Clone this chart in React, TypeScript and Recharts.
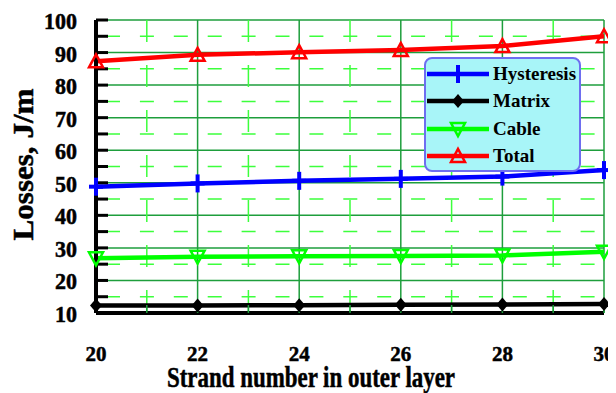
import { LineChart, Line, XAxis, YAxis, CartesianGrid, ReferenceLine, Legend } from 'recharts'

const strands = [20, 22, 24, 26, 28, 30]
const hysteresis = [48.8, 49.8, 50.6, 51.2, 51.9, 53.9]
const matrix = [12.3, 12.3, 12.4, 12.5, 12.6, 12.8]
const cable = [26.8, 27.3, 27.4, 27.5, 27.7, 28.8]
const total = [87.3, 89.3, 90.1, 90.8, 92.0, 95.0]

const yTicks = [10, 15, 20, 25, 30, 35, 40, 45, 50, 55, 60, 65, 70, 75, 80, 85, 90, 95, 100]
const xTicks = [20, 21, 22, 23, 24, 25, 26, 27, 28, 29, 30]
const majorY = [20, 30, 40, 50, 60, 70, 80, 90, 100]
const majorX = [22, 24, 26, 28, 30]
const minorY = [15, 25, 35, 45, 55, 65, 75, 85, 95]
const minorX = [21, 23, 25, 27, 29]

const FONT = '"Liberation Serif", "Times New Roman", serif'
const MAJOR = '#1e9e3c'
const MINOR = '#3cff3c'

const series = [
  { key: 'hysteresis', name: 'Hysteresis', color: '#0000ff', shape: 'plus' },
  { key: 'matrix', name: 'Matrix', color: '#000000', shape: 'diamond' },
  { key: 'cable', name: 'Cable', color: '#00ff00', shape: 'down' },
  { key: 'total', name: 'Total', color: '#ff0000', shape: 'up' },
]

const data = strands.map((s, i) => ({
  strand: s,
  hysteresis: hysteresis[i],
  matrix: matrix[i],
  cable: cable[i],
  total: total[i],
}))

function Marker({ shape, cx, cy, color }: any) {
  if (shape === 'plus') {
    return (
      <g stroke={color} strokeWidth={4}>
        <line x1={cx} y1={cy - 9} x2={cx} y2={cy + 9} />
        <line x1={cx - 7} y1={cy} x2={cx + 7} y2={cy} />
      </g>
    )
  }
  if (shape === 'diamond') {
    return <path d={`M${cx},${cy - 7}L${cx + 6},${cy}L${cx},${cy + 7}L${cx - 6},${cy}Z`} fill={color} />
  }
  if (shape === 'down') {
    return (
      <path d={`M${cx - 7},${cy - 6}L${cx + 7},${cy - 6}L${cx},${cy + 7}Z`} fill="none" stroke={color} strokeWidth={2.5} />
    )
  }
  return (
    <path d={`M${cx - 7},${cy + 6}L${cx + 7},${cy + 6}L${cx},${cy - 7}Z`} fill="none" stroke={color} strokeWidth={2.5} />
  )
}

// heavier bold text, the source looks almost black-filled
const boldText = { fontFamily: FONT, fontWeight: 'bold', fill: '#000', stroke: '#000', strokeWidth: 0.5 } as const

const YTick = ({ x, y, payload }: any) => {
  if (payload.value % 10 !== 0) return <g />
  const label = String(payload.value)
  return (
    <text
      x={x}
      y={y + 9}
      textAnchor="end"
      style={{ fontSize: '23px' }}
      textLength={label.length * 11}
      lengthAdjust="spacingAndGlyphs"
      {...boldText}
    >
      {label}
    </text>
  )
}

const XTick = ({ x, y, payload }: any) => {
  if (payload.value % 2 !== 0) return <g />
  const label = String(payload.value)
  return (
    <text
      x={x}
      y={y}
      textAnchor="middle"
      style={{ fontSize: '22px' }}
      textLength={label.length * 10.5}
      lengthAdjust="spacingAndGlyphs"
      {...boldText}
    >
      {label}
    </text>
  )
}

const XTitle = ({ viewBox }: any) => (
  <text
    x={viewBox.x + viewBox.width / 2 - 39}
    y={viewBox.y + 74}
    textAnchor="middle"
    fontSize={29}
    textLength={288}
    lengthAdjust="spacingAndGlyphs"
    {...boldText}
  >
    Strand number in outer layer
  </text>
)

const YTitle = ({ viewBox }: any) => {
  const cx = 25
  const cy = viewBox.y + viewBox.height / 2 - 2
  return (
    <text
      x={cx}
      y={cy}
      transform={`rotate(-90 ${cx} ${cy})`}
      textAnchor="middle"
      fontSize={30}
      textLength={152}
      lengthAdjust="spacingAndGlyphs"
      {...boldText}
    >
      Losses, J/m
    </text>
  )
}

const renderLegend = () => (
  <div
    style={{
      width: 157,
      height: 115,
      boxSizing: 'border-box',
      background: '#a8f5f8',
      border: '2px solid #6e6ef0',
      borderRadius: 8,
      paddingTop: 1,
    }}
  >
    {series.map((s) => (
      <div key={s.key} style={{ display: 'flex', alignItems: 'center', height: 27.5 }}>
        <svg width={64} height={20}>
          <line x1={1} x2={63} y1={10} y2={10} stroke={s.color} strokeWidth={4.5} />
          <Marker shape={s.shape} cx={32} cy={10} color={s.color} />
        </svg>
        <span style={{ fontFamily: FONT, fontWeight: 'bold', fontSize: 19, marginLeft: 3, color: '#000' }}>
          {s.name}
        </span>
      </div>
    ))}
  </div>
)

export default function App() {
  return (
    <LineChart width={608} height={385} data={data} margin={{ top: 12, right: 12, bottom: 20, left: 8 }}>
      <CartesianGrid stroke={MAJOR} strokeWidth={1.5} horizontalValues={majorY} verticalValues={majorX} />
      {minorY.map((v) => (
        <ReferenceLine key={'my' + v} y={v} stroke={MINOR} strokeWidth={1.5} strokeDasharray="14 19.9" strokeDashoffset={23.9} />
      ))}
      {minorX.map((v) => (
        <ReferenceLine key={'mx' + v} x={v} stroke={MINOR} strokeWidth={1.5} strokeDasharray="22 23" strokeDashoffset={44} />
      ))}
      <XAxis
        dataKey="strand"
        type="number"
        domain={[20, 30]}
        ticks={xTicks}
        interval={0}
        height={60}
        axisLine={{ stroke: '#000', strokeWidth: 4 }}
        tickLine={{ stroke: MAJOR, strokeWidth: 1.5 }}
        tickSize={-8}
        tickMargin={56}
        tick={XTick}
        label={XTitle}
      />
      <YAxis
        type="number"
        domain={[10, 100]}
        ticks={yTicks}
        interval={0}
        width={80}
        axisLine={{ stroke: '#000', strokeWidth: 4 }}
        tickLine={{ stroke: '#000', strokeWidth: 3 }}
        tickSize={-12}
        tickMargin={31}
        tick={YTick}
        label={YTitle}
      />
      {series.map((s) => (
        <Line
          key={s.key}
          type="linear"
          dataKey={s.key}
          name={s.name}
          stroke={s.color}
          strokeWidth={4.5}
          isAnimationActive={false}
          dot={(p: any) => <Marker key={s.key + p.index} shape={s.shape} cx={p.cx} cy={p.cy} color={s.color} />}
          activeDot={false}
        />
      ))}
      <Legend
        layout="vertical"
        align="center"
        verticalAlign="middle"
        content={renderLegend}
        wrapperStyle={{ left: 416, top: 49, width: 157, height: 115 }}
      />
    </LineChart>
  )
}
